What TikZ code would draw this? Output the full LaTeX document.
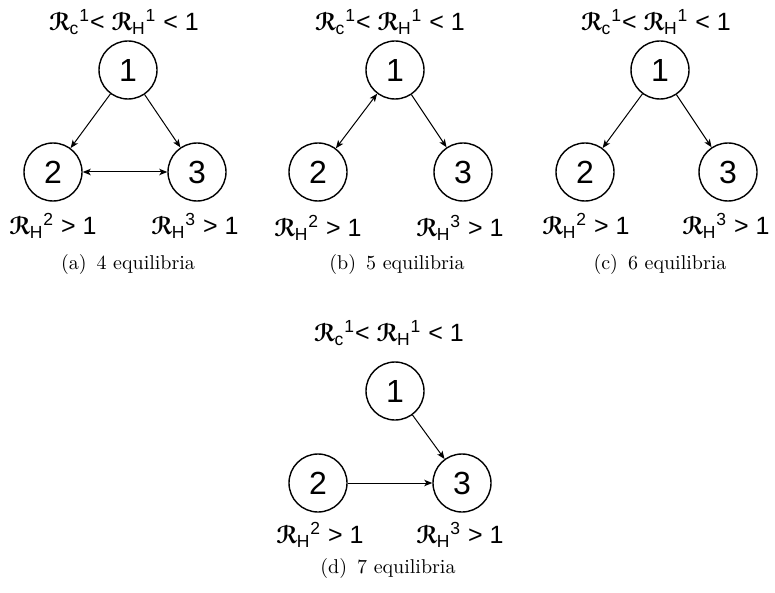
\documentclass[tikz,border=0pt]{standalone}
\usepackage{amsmath}
\usepackage[mathscr]{euscript}
\usepackage{fontspec}
\newfontfamily\arial{Liberation Sans}
\usetikzlibrary{arrows.meta}
\newcommand{\Rsym}[2]{$\boldsymbol{\mathscr{R}}_{\text{#1}}{}^{\text{#2}}$}
\begin{document}
\begin{tikzpicture}[
    x=0.5pt, y=-0.5pt,
    eq/.style={circle, draw, line width=0.7pt, minimum size=29pt, inner sep=0pt, font=\arial\fontsize{16}{18}\selectfont},
    lab/.style={inner sep=0pt, font=\arial\fontsize{12.5}{15}\selectfont},
    captext/.style={inner sep=0pt, font=\normalsize},
    arr/.style={line width=0.5pt, -{Stealth[length=4pt,width=3.2pt,inset=1pt]}},
    arrb/.style={line width=0.5pt, {Stealth[length=4pt,width=3.2pt,inset=1pt]}-{Stealth[length=4pt,width=3.2pt,inset=1pt]}},
]
\useasboundingbox (0,0) rectangle (775,593);

% (a) 4 equilibria
\node[eq] (a1) at (128,70) {1};
\node[eq] (a2) at (53,172) {2};
\node[eq] (a3) at (197,172) {3};
\node[lab] (a1l) at (124,22) {\Rsym{c}{1}< \Rsym{H}{1} < 1};
\node[lab] (a2l) at (53,226) {\Rsym{H}{2} > 1};
\node[lab] (a3l) at (195,226) {\Rsym{H}{3} > 1};
\node[captext] (acap) at (128,264) {(a)~\,4 equilibria};
\draw[arr] (a1) -- (a2);
\draw[arr] (a1) -- (a3);
\draw[arrb] (a2) -- (a3);

% (b) 5 equilibria
\node[eq] (b1) at (395,70) {1};
\node[eq] (b2) at (318,172) {2};
\node[eq] (b3) at (463,172) {3};
\node[lab] (b1l) at (390,22) {\Rsym{c}{1}< \Rsym{H}{1} < 1};
\node[lab] (b2l) at (318,228) {\Rsym{H}{2} > 1};
\node[lab] (b3l) at (460,228) {\Rsym{H}{3} > 1};
\node[captext] (bcap) at (397,264) {(b)~\,5 equilibria};
\draw[arrb] (b1) -- (b2);
\draw[arr] (b1) -- (b3);

% (c) 6 equilibria
\node[eq] (c1) at (660,70) {1};
\node[eq] (c2) at (585,172) {2};
\node[eq] (c3) at (728,172) {3};
\node[lab] (c1l) at (656,22) {\Rsym{c}{1}< \Rsym{H}{1} < 1};
\node[lab] (c2l) at (586,226) {\Rsym{H}{2} > 1};
\node[lab] (c3l) at (726,226) {\Rsym{H}{3} > 1};
\node[captext] (ccap) at (660,264) {(c)~\,6 equilibria};
\draw[arr] (c1) -- (c2);
\draw[arr] (c1) -- (c3);

% (d) 7 equilibria
\node[eq] (d1) at (395,391) {1};
\node[eq] (d2) at (318,483) {2};
\node[eq] (d3) at (462,483) {3};
\node[lab] (d1l) at (389,333) {\Rsym{c}{1}< \Rsym{H}{1} < 1};
\node[lab] (d2l) at (320,535) {\Rsym{H}{2} > 1};
\node[lab] (d3l) at (460,535) {\Rsym{H}{3} > 1};
\node[captext] (dcap) at (388,568) {(d)~\,7 equilibria};
\draw[arr] (d1) -- (d3);
\draw[arr] (d2) -- (d3);

\end{tikzpicture}
\end{document}
